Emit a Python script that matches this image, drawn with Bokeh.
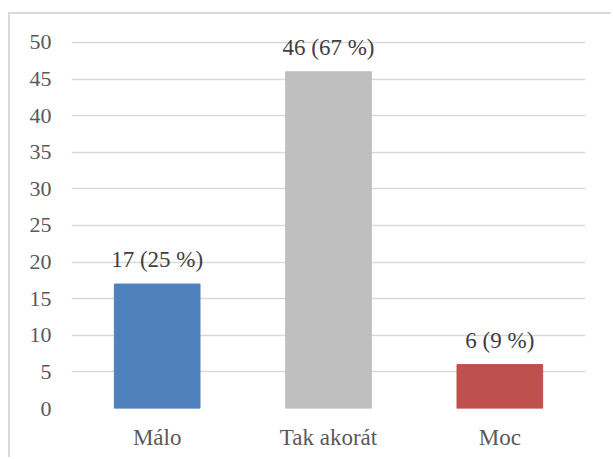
from bokeh.plotting import figure
from bokeh.models import ColumnDataSource, Range1d, FactorRange, SingleIntervalTicker
from bokeh.core.properties import value
from bokeh.embed import file_html
from bokeh.resources import INLINE

categories = ["Málo", "Tak akorát", "Moc"]
counts = [17, 46, 6]
percents = [25, 67, 9]
colors = ["#4f81bd", "#bfbfbf", "#c0504d"]

labels = [f"{c} ({p} %)" for c, p in zip(counts, percents)]
src = ColumnDataSource(dict(cat=categories, val=counts, lab=labels, col=colors))

FONT = "Liberation Serif"
p = figure(width=603, height=445, x_range=FactorRange(*categories, range_padding=0),
           y_range=Range1d(0, 53), output_backend="svg", toolbar_location=None,
           min_border_left=61, min_border_right=28, min_border_top=6, min_border_bottom=51)
p.x_range.range_padding = 0
p.outline_line_color = None
p.styles = {"margin-left": "8px", "margin-top": "12px",
            "border-left": "2px solid #d9d9d9", "border-top": "2px solid #d9d9d9"}

p.vbar(x="cat", top="val", width=0.5, color="col", source=src)
p.text(x="cat", y="val", text="lab", source=src, text_align="center", text_baseline="bottom",
       y_offset=-12, text_font=value(FONT), text_font_size="23px", text_color="#404040")

p.yaxis.ticker = SingleIntervalTicker(interval=5)
for ax in (p.xaxis[0], p.yaxis[0]):
    ax.axis_line_color = None
    ax.major_tick_line_color = None
    ax.minor_tick_line_color = None
    ax.major_tick_out = 0
    ax.major_tick_in = 0
    ax.minor_tick_out = 0
    ax.major_label_text_font = FONT
    ax.major_label_text_color = "#595959"
p.yaxis.major_label_text_font_size = "22px"
p.xaxis.major_label_text_font_size = "23px"
p.yaxis.major_label_standoff = 20
p.xaxis.major_label_standoff = 16

p.xgrid.grid_line_color = None
p.ygrid.grid_line_color = "#d9d9d9"
p.ygrid.grid_line_width = 1.5

open("out.html", "w").write(file_html(p, INLINE))
